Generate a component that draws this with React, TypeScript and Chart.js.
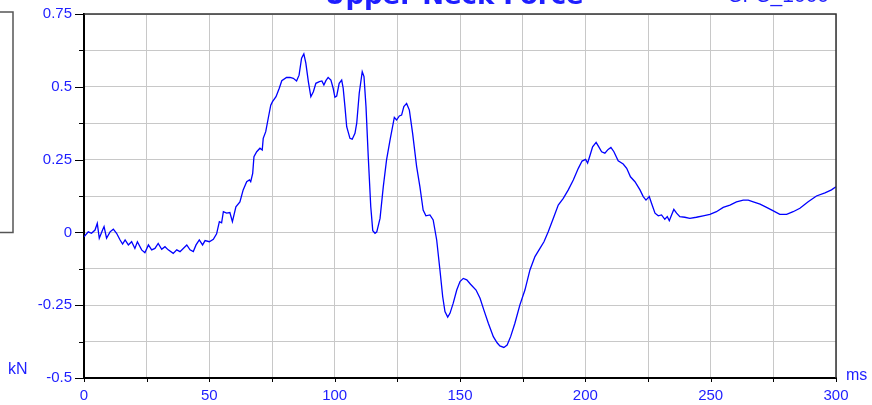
import React, { useEffect, useRef } from "react";
import { Chart, registerables } from "chart.js";

Chart.register(...registerables);

const timesMs: number[] = [
  0, 1.7, 3, 4.4, 5.3, 6.1, 7.4, 8, 9, 10.4, 11.7, 13, 14.4, 15.4, 16.4, 17.7, 19, 20.3, 21.3, 23,
  24.3, 25.7, 27, 28.3, 29.6, 31, 32.3, 33.6, 35.6, 37, 38.3, 39.6, 41, 42.3, 43.6, 44.7, 46, 47.3, 48.3, 50,
  51.6, 52.9, 54, 54.9, 55.6, 56.9, 58.2, 59.2, 60.6, 62.2, 63.5, 64.9, 66, 66.5, 67.3, 67.8, 68.9, 70.2, 71.1, 71.5,
  72.5, 73.5, 74.5, 75.2, 76.6, 77.9, 78.9, 80.8, 82.2, 83.5, 84.8, 85.8, 86.8, 87.7, 88.5, 89.5, 90.5, 91.5, 92.5, 93.9,
  94.9, 95.7, 96.5, 97.4, 98.5, 99.4, 100.1, 100.8, 101.8, 102.8, 103.4, 104.1, 104.8, 106.1, 107, 108.1, 108.8, 109.8, 111, 111.7,
  112.5, 113.4, 114.4, 115.2, 116.1, 116.8, 118.1, 119.4, 120.7, 122.1, 123.8, 124.7, 125.8, 126.7, 127.6, 128.7, 129.8, 131.1, 132.7, 134,
  135.3, 136.4, 138, 139.3, 140.7, 142, 143.1, 144, 145.1, 146, 147.3, 148.7, 150, 151.3, 152.7, 154.2, 156.4, 158, 159.5, 161.3,
  163.3, 164.8, 165.9, 167.5, 168.8, 170.2, 171.9, 173.9, 175.9, 177.9, 179.9, 181.9, 183.5, 185.2, 187.2, 189.2, 191.2, 193.2, 195.2, 197.2,
  198.7, 200.1, 200.9, 201.7, 202.9, 204.3, 205.2, 206.5, 207.8, 209.1, 210.2, 211.4, 213.1, 215.1, 216.5, 218, 219.8, 221.8, 223.1, 224.2,
  225.5, 226.4, 227.8, 229.1, 230.4, 231.7, 232.7, 233.5, 234.4, 235.3, 236.4, 237.7, 239.7, 241.7, 244.3, 247, 249.7, 252.3, 255, 257.7,
  260.3, 263, 265, 267, 269.7, 272.3, 275, 277.6, 280.3, 282.9, 285.6, 288.9, 292.2, 295.6, 298.2, 300,
];

const forceKN: number[] = [
  -0.015, 0.002, -0.003, 0.008, 0.031, -0.02, 0.008, 0.02, -0.02, 0.002, 0.011, -0.003, -0.026, -0.04, -0.026, -0.043, -0.032, -0.055, -0.032, -0.06,
  -0.07, -0.043, -0.06, -0.055, -0.038, -0.058, -0.049, -0.06, -0.072, -0.06, -0.066, -0.055, -0.043, -0.06, -0.066, -0.043, -0.026, -0.043, -0.028, -0.032,
  -0.024, -0.005, 0.037, 0.033, 0.071, 0.066, 0.068, 0.037, 0.088, 0.105, 0.146, 0.174, 0.18, 0.174, 0.203, 0.26, 0.277, 0.289, 0.283, 0.323,
  0.346, 0.392, 0.437, 0.449, 0.466, 0.495, 0.521, 0.532, 0.532, 0.529, 0.52, 0.54, 0.598, 0.613, 0.581, 0.518, 0.466, 0.483, 0.512, 0.518,
  0.52, 0.506, 0.521, 0.532, 0.523, 0.495, 0.464, 0.468, 0.512, 0.523, 0.495, 0.432, 0.363, 0.323, 0.32, 0.34, 0.375, 0.478, 0.552, 0.535,
  0.432, 0.26, 0.088, 0.006, -0.003, 0.002, 0.048, 0.157, 0.249, 0.318, 0.395, 0.386, 0.4, 0.403, 0.432, 0.443, 0.42, 0.34, 0.226, 0.157,
  0.077, 0.057, 0.06, 0.043, -0.026, -0.129, -0.221, -0.272, -0.291, -0.278, -0.243, -0.198, -0.169, -0.158, -0.163, -0.178, -0.198, -0.226, -0.266, -0.312,
  -0.358, -0.379, -0.39, -0.395, -0.387, -0.358, -0.312, -0.249, -0.198, -0.129, -0.083, -0.055, -0.032, 0.002, 0.048, 0.094, 0.117, 0.146, 0.18, 0.22,
  0.245, 0.251, 0.238, 0.26, 0.294, 0.309, 0.296, 0.277, 0.272, 0.285, 0.292, 0.277, 0.246, 0.235, 0.22, 0.191, 0.174, 0.146, 0.123, 0.111,
  0.123, 0.1, 0.066, 0.057, 0.06, 0.045, 0.054, 0.04, 0.06, 0.079, 0.066, 0.054, 0.052, 0.048, 0.052, 0.057, 0.062, 0.071, 0.086, 0.094,
  0.105, 0.111, 0.111, 0.105, 0.097, 0.086, 0.074, 0.062, 0.062, 0.071, 0.083, 0.105, 0.125, 0.136, 0.146, 0.157,
];

const xMin = 0;
const xMax = 300;
const xStep = 25;
const xLabelStep = 50;
const yMin = -0.5;
const yMax = 0.75;
const yStep = 0.125;
const yLabelStep = 0.25;

const titleText = "Upper Neck Force";
const filterText = "CFC_1000";
const yUnit = "kN";
const xUnit = "ms";

const BLUE_TEXT = "#1e1eff";
const LINE_BLUE = "#0000ff";
const FONT = "'Liberation Sans', Arial, sans-serif";

const isMultiple = (v: number, step: number) => Math.abs(Math.round(v / step) - v / step) < 1e-6;

const decorations = {
  id: "decorations",
  afterDraw(chart: any) {
    const { ctx, chartArea, scales } = chart;
    const xs = scales.x;
    const ys = scales.y;
    ctx.save();
    // top & right frame
    ctx.strokeStyle = "#333";
    ctx.lineWidth = 1.5;
    ctx.beginPath();
    ctx.moveTo(chartArea.left, chartArea.top);
    ctx.lineTo(chartArea.right, chartArea.top);
    ctx.lineTo(chartArea.right, chartArea.bottom);
    ctx.stroke();
    // tick marks
    ctx.strokeStyle = "#000";
    ctx.lineWidth = 1;
    for (let v = yMin; v <= yMax + 1e-9; v += yStep) {
      const py = Math.round(ys.getPixelForValue(v)) + 0.5;
      const len = isMultiple(v, yLabelStep) ? 9 : 5;
      ctx.beginPath();
      ctx.moveTo(chartArea.left - len, py);
      ctx.lineTo(chartArea.left, py);
      ctx.stroke();
    }
    for (let v = xMin; v <= xMax + 1e-9; v += xStep) {
      const px = Math.round(xs.getPixelForValue(v)) + 0.5;
      ctx.beginPath();
      ctx.moveTo(px, chartArea.bottom);
      ctx.lineTo(px, chartArea.bottom + 4);
      ctx.stroke();
    }
    // legend box (cut off at left)
    ctx.strokeStyle = "#555";
    ctx.lineWidth = 1.5;
    ctx.strokeRect(-5, 12, 18, 220.5);
    // title (cropped at top)
    ctx.fillStyle = BLUE_TEXT;
    ctx.textAlign = "center";
    ctx.textBaseline = "alphabetic";
    ctx.font = "bold 26px 'DejaVu Sans', sans-serif";
    ctx.fillText(titleText, 454, 4);
    ctx.textAlign = "right";
    ctx.font = `21px ${FONT}`;
    ctx.fillText(filterText, 829, 2);
    // unit labels
    ctx.font = `16px ${FONT}`;
    ctx.textAlign = "left";
    ctx.fillText(yUnit, 8, 374);
    ctx.fillText(xUnit, 846, 380);
    ctx.restore();
  },
};

export default function App() {
  const canvasRef = useRef<HTMLCanvasElement | null>(null);

  useEffect(() => {
    if (!canvasRef.current) return;
    const points = timesMs.map((t, i) => ({ x: t, y: forceKN[i] }));
    const chart = new Chart(canvasRef.current, {
      type: "line",
      data: {
        datasets: [
          {
            data: points,
            borderColor: LINE_BLUE,
            borderWidth: 1.3,
            pointRadius: 0,
            tension: 0,
            fill: false,
          },
        ],
      },
      options: {
        animation: false,
        responsive: false,
        devicePixelRatio: 1,
        layout: { padding: { top: 14, right: 36, left: 0, bottom: 0 } },
        plugins: { legend: { display: false }, tooltip: { enabled: false }, title: { display: false } },
        scales: {
          x: {
            type: "linear",
            min: xMin,
            max: xMax,
            afterFit: (s: any) => {
              s.height = 27;
              s.paddingLeft = 0;
              s.paddingRight = 0;
            },
            ticks: {
              stepSize: xStep,
              autoSkip: false,
              maxRotation: 0,
              padding: 9,
              color: BLUE_TEXT,
              font: { family: FONT, size: 15 },
              callback: (v: any) => (isMultiple(Number(v), xLabelStep) ? String(Math.round(Number(v))) : ""),
            },
            grid: { color: "#c8c8c8", lineWidth: 1, drawTicks: false },
            border: { display: true, color: "#000", width: 2 },
          },
          y: {
            type: "linear",
            min: yMin,
            max: yMax,
            afterFit: (s: any) => {
              s.width = 84;
              s.paddingTop = 0;
              s.paddingBottom = 0;
            },
            ticks: {
              stepSize: yStep,
              autoSkip: false,
              padding: 12,
              color: BLUE_TEXT,
              font: { family: FONT, size: 15 },
              callback: (v: any) => {
                const n = Number(v);
                if (!isMultiple(n, yLabelStep)) return "";
                return String(Math.round(n * 100) / 100);
              },
            },
            grid: { color: "#c8c8c8", lineWidth: 1, drawTicks: false },
            border: { display: true, color: "#000", width: 2 },
          },
        },
      },
      plugins: [decorations],
    });
    return () => chart.destroy();
  }, []);

  return (
    <div style={{ position: "absolute", left: 0, top: 0, width: 872, height: 405, background: "#fff" }}>
      <canvas ref={canvasRef} width={872} height={405} style={{ display: "block" }} />
    </div>
  );
}
